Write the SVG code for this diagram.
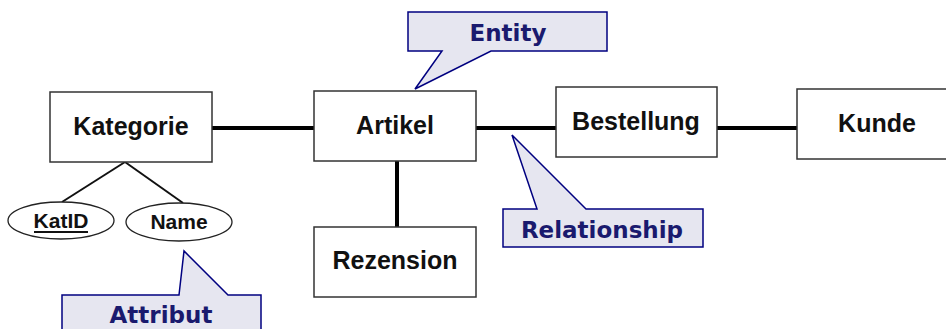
<svg xmlns="http://www.w3.org/2000/svg" width="946" height="329" viewBox="0 0 946 329">
<style>
.box{fill:#fff;stroke:#333;stroke-width:1.5}
.ell{fill:#fff;stroke:#222;stroke-width:1.3}
.lbl{font-family:"Liberation Sans",Arial,sans-serif;font-weight:bold;font-size:25px;fill:#111;text-anchor:middle}
.att{font-family:"Liberation Sans",Arial,sans-serif;font-weight:bold;font-size:21px;fill:#111;text-anchor:middle}
.rel{stroke:#000;stroke-width:4;fill:none}
.thin{stroke:#111;stroke-width:2;fill:none}
.call{fill:#e6e6f0;stroke:#000080;stroke-width:1.5}
.ctx{font-family:"DejaVu Sans",Verdana,sans-serif;font-weight:bold;font-size:23px;fill:#1a1a6e;text-anchor:middle}
</style>
<rect width="946" height="329" fill="#fff"/>
<g id="connectors">
<line class="rel" x1="212" y1="128" x2="315" y2="128"/>
<line class="rel" x1="476" y1="128" x2="556" y2="128"/>
<line class="rel" x1="717" y1="128" x2="797" y2="128"/>
<line class="rel" x1="397" y1="161" x2="397" y2="227"/>
<line class="thin" x1="125" y1="162" x2="62" y2="202"/>
<line class="thin" x1="125" y1="162" x2="183" y2="203"/>
</g>
<g id="kategorie"><rect class="box" x="50" y="92" width="162" height="70"/><text class="lbl" x="131" y="135">Kategorie</text></g>
<g id="artikel"><rect class="box" x="314" y="91" width="162" height="70"/><text class="lbl" x="395" y="134">Artikel</text></g>
<g id="bestellung"><rect class="box" x="556" y="87" width="161" height="70"/><text class="lbl" x="636" y="130">Bestellung</text></g>
<g id="kunde"><rect class="box" x="797" y="89" width="160" height="70"/><text class="lbl" x="877" y="132">Kunde</text></g>
<g id="rezension"><rect class="box" x="314" y="227" width="162" height="70"/><text class="lbl" x="395" y="269">Rezension</text></g>
<g id="katid"><ellipse class="ell" cx="61" cy="220.5" rx="53" ry="18.5"/><text class="att" x="61" y="228">KatID</text><line x1="34" y1="232" x2="88" y2="232" stroke="#111" stroke-width="2"/></g>
<g id="name"><ellipse class="ell" cx="179" cy="222" rx="53" ry="19"/><text class="att" x="179" y="229">Name</text></g>
<g id="entity-callout"><path class="call" d="M408,12 H607 V51 H491 L415,89 L442,51 H408 Z"/><text class="ctx" x="508" y="41">Entity</text></g>
<g id="relationship-callout"><path class="call" d="M503,209 H537 L512,135 L586,209 H703 V247 H503 Z"/><text class="ctx" x="602" y="238">Relationship</text></g>
<g id="attribut-callout"><path class="call" d="M62,295 H179 L184,251 L228,295 H261 V340 H62 Z"/><text class="ctx" x="161" y="323">Attribut</text></g>
</svg>
